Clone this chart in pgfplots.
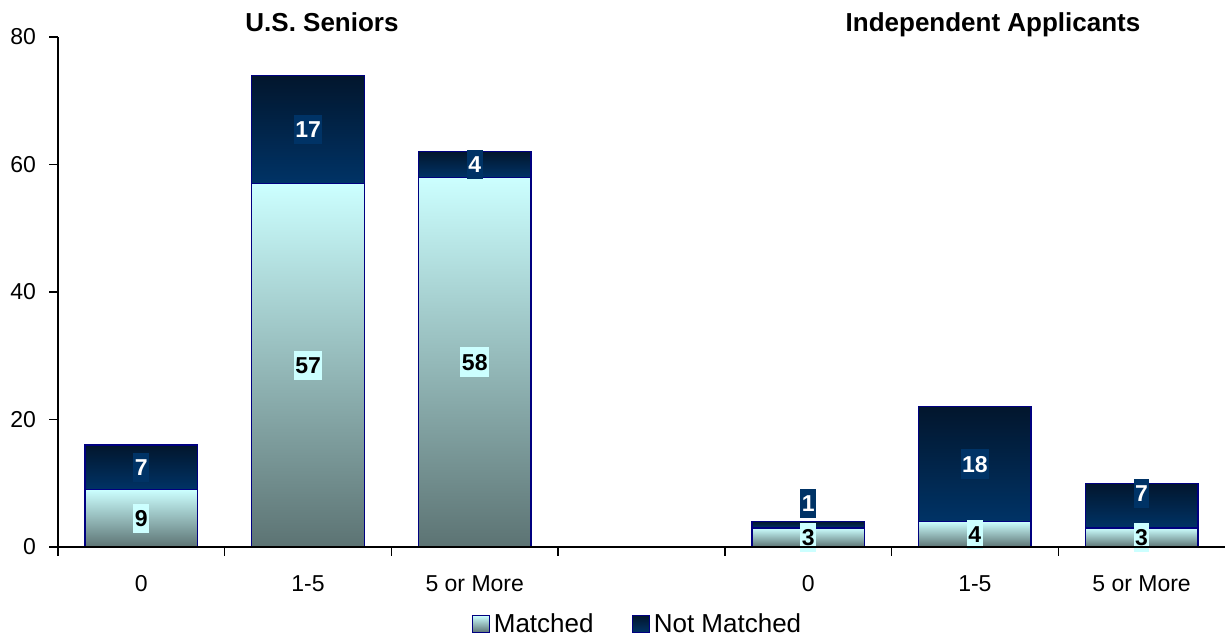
\documentclass[border=0pt]{standalone}
\usepackage{pgfplots}
\pgfplotsset{compat=1.18}
\usepackage{pgfplotstable}
\usepackage{fontspec}
\setmainfont{Liberation Sans}
\definecolor{navyborder}{RGB}{0,0,128}
\definecolor{mtop}{RGB}{204,255,255}
\definecolor{mbot}{RGB}{92,115,115}
\definecolor{ntop}{RGB}{2,22,45}
\definecolor{nbot}{RGB}{0,51,102}
\definecolor{lblcyan}{RGB}{204,255,255}
\definecolor{lblnavy}{RGB}{0,51,102}

\pgfplotstableread{
x y dy
0 9 0
1 57 0
2 58 0
4 3 0
5 4 0
6 3 0
}\matched
\pgfplotstableread{
x y dy
0 7 0
1 17 0
2 4 0
4 1 21
5 18 0
6 7 12
}\notmatched

\pgfplotsset{
  base/.style={at={(0pt,0pt)}, anchor=south west, scale only axis,
    width=1167pt, height=510pt, xmin=-0.5, xmax=6.5, ymin=0, ymax=80, clip=false,
    /pgf/number format/assume math mode=true},
  mstyle/.style={draw=navyborder, line width=1.4pt, top color=mtop, bottom color=mbot},
  nstyle/.style={draw=navyborder, line width=1.4pt, top color=ntop, bottom color=nbot},
  lbl/.style={nodes near coords, point meta=\thisrow{y},
    visualization depends on={\thisrow{dy} \as \labdy},
    every node near coord/.append style={anchor=center, yshift={\labdy*1pt},
      font=\bfseries\fontsize{23}{27}\selectfont,
      inner xsep=1.5pt, inner ysep=6.5pt, text height=16.5pt, text depth=0pt}},
}
\newcommand\onebar[2]{%
\begin{axis}[base, hide axis, ybar stacked, bar width=0.675]
\addplot[mstyle, lbl, restrict x to domain=#1:#2,
  every node near coord/.append style={fill=lblcyan, text=black}] table[x=x, y=y] {\matched};
\addplot[nstyle, lbl, restrict x to domain=#1:#2,
  every node near coord/.append style={fill=lblnavy, text=white}] table[x=x, y=y] {\notmatched};
\end{axis}}

\begin{document}
\begin{tikzpicture}
\path[use as bounding box] (-58pt,-91pt) rectangle (1167pt,547pt);
\onebar{-0.1}{0.1}
\onebar{0.9}{1.1}
\onebar{1.9}{2.1}
\onebar{3.9}{4.1}
\onebar{4.9}{5.1}
\onebar{5.9}{6.1}
\begin{axis}[
  base,
  axis x line*=bottom, axis y line*=left,
  axis line style={-, line width=1.4pt, black},
  ytick={0,20,40,60,80},
  xtick={-0.5,0.5,1.5,2.5,3.5,4.5,5.5},
  xticklabels={,,,,,,},
  extra x ticks={0,1,2,4,5,6},
  extra x tick labels={0,1-5,5 or More,0,1-5,5 or More},
  extra x tick style={major tick length=0pt, tick label style={yshift=-25pt}},
  tick align=outside,
  major tick length=8.5pt,
  tick style={black, line width=1.4pt},
  tick label style={font=\fontsize{23}{27}\selectfont},
  yticklabel style={xshift=-10pt},
  legend columns=2,
  legend image code/.code={\draw[#1, line width=1.2pt] (0pt,-8.5pt) rectangle (17pt,8.5pt);},
  legend style={at={(0.4974,-0.151)}, anchor=center, draw=none, fill=none,
    font=\fontsize{26}{30}\selectfont,
    /tikz/every even column/.append style={column sep=35pt},
    nodes={inner xsep=3.5pt, inner ysep=3pt}},
]
\addlegendimage{mstyle}
\addlegendentry{Matched}
\addlegendimage{nstyle}
\addlegendentry{Not Matched}
\end{axis}
\node[anchor=base, font=\bfseries\fontsize{26}{30}\selectfont] at (264pt,515pt) {U.S. Seniors};
\node[anchor=base, font=\bfseries\fontsize{26}{30}\selectfont] at (935pt,515pt) {Independent Applicants};
\end{tikzpicture}
\end{document}
